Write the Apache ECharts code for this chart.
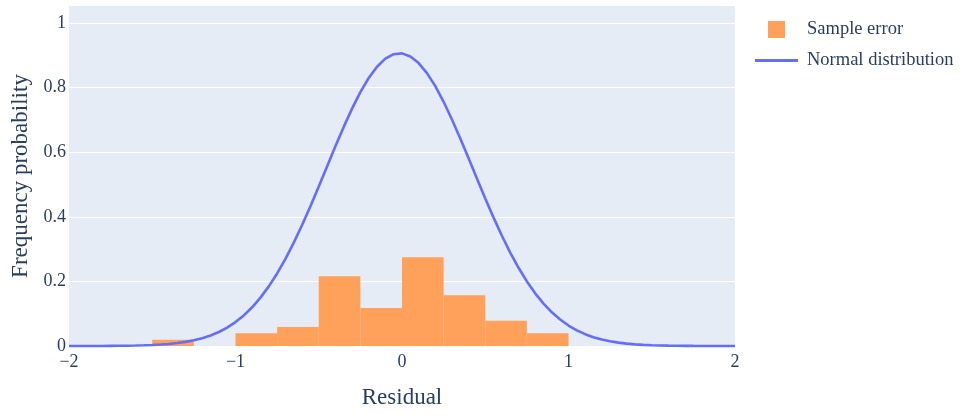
<!DOCTYPE html>
<html>
<head>
<meta charset="utf-8">
<title>Residual distribution</title>
<script src="https://cdn.jsdelivr.net/npm/echarts@6/dist/echarts.min.js"></script>
<style>
  html, body { margin: 0; padding: 0; background: #ffffff; }
  #chart { width: 962px; height: 417px; }
</style>
</head>
<body>
<div id="chart"></div>
<script>
// Histogram of residuals (bin edges and relative frequency)
const binLeft = [-1.5, -1.0, -0.75, -0.5, -0.25, 0.0, 0.25, 0.5, 0.75];
const binRight = [-1.25, -0.75, -0.5, -0.25, 0.0, 0.25, 0.5, 0.75, 1.0];
const sampleFreq = [0.0196, 0.0392, 0.0588, 0.2157, 0.1176, 0.2745, 0.1569, 0.0784, 0.0392];

// Fitted normal density, sampled every 0.05 along the residual axis
const curveX = [
  -2.00, -1.95, -1.90, -1.85, -1.80, -1.75, -1.70, -1.65, -1.60, -1.55,
  -1.50, -1.45, -1.40, -1.35, -1.30, -1.25, -1.20, -1.15, -1.10, -1.05,
  -1.00, -0.95, -0.90, -0.85, -0.80, -0.75, -0.70, -0.65, -0.60, -0.55,
  -0.50, -0.45, -0.40, -0.35, -0.30, -0.25, -0.20, -0.15, -0.10, -0.05,
   0.00,  0.05,  0.10,  0.15,  0.20,  0.25,  0.30,  0.35,  0.40,  0.45,
   0.50,  0.55,  0.60,  0.65,  0.70,  0.75,  0.80,  0.85,  0.90,  0.95,
   1.00,  1.05,  1.10,  1.15,  1.20,  1.25,  1.30,  1.35,  1.40,  1.45,
   1.50,  1.55,  1.60,  1.65,  1.70,  1.75,  1.80,  1.85,  1.90,  1.95,
   2.00
];
const curveY = [
  0.0000, 0.0001, 0.0001, 0.0002, 0.0002, 0.0004, 0.0006, 0.0009, 0.0014, 0.0021,
  0.0030, 0.0045, 0.0064, 0.0091, 0.0127, 0.0177, 0.0241, 0.0326, 0.0434, 0.0570,
  0.0740, 0.0948, 0.1199, 0.1498, 0.1846, 0.2247, 0.2699, 0.3201, 0.3747, 0.4330,
  0.4939, 0.5562, 0.6183, 0.6786, 0.7351, 0.7862, 0.8300, 0.8650, 0.8899, 0.9038,
  0.9062, 0.8969, 0.8763, 0.8451, 0.8047, 0.7563, 0.7017, 0.6428, 0.5812, 0.5187,
  0.4571, 0.3976, 0.3414, 0.2893, 0.2422, 0.2000, 0.1631, 0.1313, 0.1044, 0.0819,
  0.0634, 0.0484, 0.0366, 0.0272, 0.0200, 0.0145, 0.0104, 0.0074, 0.0051, 0.0035,
  0.0024, 0.0016, 0.0011, 0.0007, 0.0005, 0.0003, 0.0002, 0.0001, 0.0001, 0.0000,
  0.0000
];

// Axis ticks
const xTicks = [-2, -1, 0, 1, 2];
const yTicks = [0, 0.2, 0.4, 0.6, 0.8, 1];

const FONT = 'Liberation Serif';
const INK = '#2a3f5f';
const BAR_COLOR = '#FFA15A';
const LINE_COLOR = '#636EFA';

const histData = binLeft.map((l, i) => [l, binRight[i], sampleFreq[i]]);
const curveData = curveX.map((x, i) => [x, curveY[i]]);

const chart = echarts.init(document.getElementById('chart'), null, { renderer: 'canvas' });

chart.setOption({
  animation: false,
  backgroundColor: '#ffffff',
  textStyle: { fontFamily: FONT, color: INK },
  grid: {
    left: 69, right: 227, top: 6, bottom: 71,
    show: true, backgroundColor: '#E5ECF6', borderWidth: 0,
    containLabel: false
  },
  legend: [
    {
      left: 768, top: 20, padding: 0,
      itemWidth: 17, itemHeight: 17,
      icon: 'rect',
      data: [{ name: 'Sample error', itemStyle: { color: BAR_COLOR } }],
      textStyle: { fontFamily: FONT, fontSize: 18.5, color: INK, padding: [0, 0, 0, 17] }
    },
    {
      left: 755, top: 51, padding: 0,
      itemWidth: 43, itemHeight: 3,
      icon: 'rect',
      data: [{ name: 'Normal distribution', itemStyle: { color: LINE_COLOR } }],
      textStyle: { fontFamily: FONT, fontSize: 18.5, color: INK, padding: [0, 0, 0, 4] }
    }
  ],
  xAxis: {
    type: 'value',
    min: xTicks[0], max: xTicks[xTicks.length - 1], interval: 1,
    name: 'Residual',
    nameLocation: 'middle',
    nameGap: 40,
    nameTextStyle: { fontFamily: FONT, fontSize: 23, color: INK },
    axisLine: { show: false },
    axisTick: { show: false },
    splitLine: { show: false },
    axisLabel: {
      fontFamily: FONT, fontSize: 18, color: INK, margin: 7,
      formatter: v => String(v).replace('-', '\u2212')
    }
  },
  yAxis: {
    type: 'value',
    min: yTicks[0], max: 1.053, interval: 0.2,
    name: 'Frequency probability',
    nameLocation: 'middle',
    nameGap: 36,
    nameTextStyle: { fontFamily: FONT, fontSize: 23, color: INK },
    axisLine: { show: false },
    axisTick: { show: false },
    splitLine: { show: true, showMinLine: false, showMaxLine: false, lineStyle: { color: '#ffffff', width: 1 } },
    axisLabel: {
      fontFamily: FONT, fontSize: 18, color: INK, margin: 3,
      showMaxLabel: false,
      formatter: v => (yTicks.some(t => Math.abs(t - v) < 1e-9) ? String(+v.toFixed(1)) : '')
    }
  },
  series: [
    {
      name: 'Sample error',
      type: 'custom',
      z: 2,
      itemStyle: { color: BAR_COLOR },
      encode: { x: [0, 1], y: 2 },
      data: histData,
      renderItem: function (params, api) {
        const p0 = api.coord([api.value(0), 0]);
        const p1 = api.coord([api.value(1), api.value(2)]);
        const rect = echarts.graphic.clipRectByRect(
          { x: p0[0], y: p1[1], width: p1[0] - p0[0], height: p0[1] - p1[1] },
          { x: params.coordSys.x, y: params.coordSys.y, width: params.coordSys.width, height: params.coordSys.height + 1 }
        );
        return rect && {
          type: 'rect',
          shape: rect,
          style: { fill: BAR_COLOR }
        };
      }
    },
    {
      name: 'Normal distribution',
      type: 'line',
      z: 3,
      data: curveData,
      smooth: false,
      showSymbol: false,
      clip: false,
      lineStyle: { color: LINE_COLOR, width: 2.6 },
      itemStyle: { color: LINE_COLOR }
    }
  ]
});
</script>
</body>
</html>
